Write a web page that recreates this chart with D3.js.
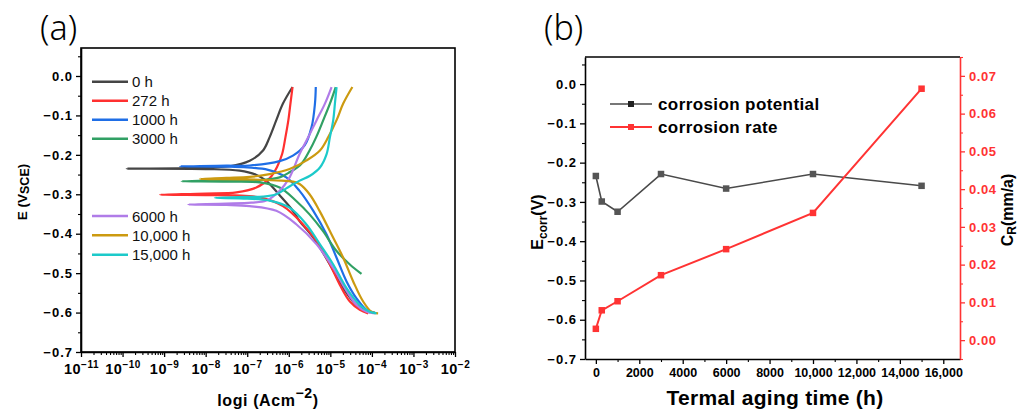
<!DOCTYPE html>
<html>
<head>
<meta charset="utf-8">
<script src="https://cdn.jsdelivr.net/npm/d3@7"></script>
<style>
  body { margin: 0; background: #fff; }
  svg { display: block; font-family: "Liberation Sans", Arial, sans-serif; }
</style>
</head>
<body>
<svg id="vis" width="1020" height="414"></svg>
<script>
// ---- panel (a): polarization curves, points are [log10(i), E] ----
const agingLabels = ["0 h", "272 h", "1000 h", "3000 h", "6000 h", "10,000 h", "15,000 h"];
const curveColors = ["#454545", "#ff3030", "#1f6ee6", "#31a064", "#b07ce8", "#cc9a10", "#1ccaca"];

// cathodic branches, from the Ecorr tip down to the end of the scan
const cathodic = [
  [[-9.90, -0.235], [-8.0, -0.236], [-7.18, -0.240], [-6.8, -0.250], [-6.54, -0.266], [-6.2, -0.305], [-5.90, -0.342], [-5.74, -0.368], [-5.41, -0.410], [-5.01, -0.478], [-4.69, -0.538], [-4.37, -0.581], [-4.05, -0.600]],
  [[-9.10, -0.301], [-8.0, -0.302], [-7.3, -0.303], [-6.70, -0.308], [-6.14, -0.330], [-5.66, -0.376], [-5.33, -0.419], [-5.01, -0.478], [-4.77, -0.530], [-4.53, -0.572], [-4.29, -0.593], [-4.09, -0.602]],
  [[-8.62, -0.229], [-7.5, -0.230], [-7.0, -0.232], [-6.5, -0.238], [-6.06, -0.257], [-5.75, -0.290], [-5.41, -0.342], [-5.09, -0.402], [-4.85, -0.461], [-4.61, -0.521], [-4.37, -0.564], [-4.13, -0.593], [-3.93, -0.600]],
  [[-8.58, -0.267], [-7.5, -0.268], [-6.7, -0.270], [-6.22, -0.283], [-5.82, -0.317], [-5.50, -0.351], [-5.18, -0.393], [-4.85, -0.444], [-4.53, -0.478], [-4.25, -0.502]],
  [[-8.42, -0.326], [-7.5, -0.327], [-6.94, -0.330], [-6.30, -0.342], [-5.82, -0.376], [-5.33, -0.427], [-4.93, -0.487], [-4.65, -0.538], [-4.37, -0.581], [-4.13, -0.598], [-3.93, -0.602]],
  [[-8.14, -0.261], [-7.0, -0.262], [-6.3, -0.265], [-5.9, -0.268], [-5.74, -0.274], [-5.50, -0.300], [-5.26, -0.342], [-4.97, -0.402], [-4.69, -0.461], [-4.45, -0.521], [-4.21, -0.572], [-4.01, -0.598], [-3.85, -0.602]],
  [[-7.78, -0.309], [-7.0, -0.311], [-6.46, -0.316], [-5.98, -0.334], [-5.58, -0.376], [-5.25, -0.427], [-4.93, -0.478], [-4.61, -0.538], [-4.29, -0.581], [-4.05, -0.598], [-3.89, -0.602]]
];

// anodic branches, from the Ecorr tip up to the end of the scan
const anodic = [
  [[-9.90, -0.234], [-8.5, -0.2335], [-7.42, -0.229], [-6.94, -0.215], [-6.62, -0.189], [-6.46, -0.155], [-6.30, -0.112], [-6.14, -0.070], [-5.91, -0.028]],
  [[-9.10, -0.299], [-8.0, -0.298], [-7.26, -0.295], [-6.78, -0.283], [-6.45, -0.258], [-6.28, -0.230], [-6.16, -0.198], [-6.08, -0.155], [-6.01, -0.112], [-5.96, -0.070], [-5.91, -0.028]],
  [[-8.62, -0.228], [-7.5, -0.2275], [-6.94, -0.227], [-6.22, -0.216], [-5.90, -0.202], [-5.62, -0.176], [-5.45, -0.129], [-5.37, -0.070], [-5.35, -0.028]],
  [[-8.58, -0.265], [-7.5, -0.2648], [-6.7, -0.264], [-6.22, -0.257], [-5.98, -0.244], [-5.70, -0.223], [-5.50, -0.189], [-5.34, -0.155], [-5.17, -0.112], [-5.01, -0.070], [-4.87, -0.028]],
  [[-8.42, -0.324], [-7.5, -0.3235], [-6.9, -0.321], [-6.54, -0.316], [-6.22, -0.291], [-5.98, -0.257], [-5.74, -0.198], [-5.53, -0.155], [-5.33, -0.112], [-5.13, -0.070], [-4.97, -0.028]],
  [[-8.14, -0.259], [-7.5, -0.2585], [-6.94, -0.256], [-6.46, -0.249], [-5.98, -0.236], [-5.57, -0.214], [-5.25, -0.189], [-5.05, -0.155], [-4.85, -0.112], [-4.69, -0.070], [-4.47, -0.028]],
  [[-7.78, -0.307], [-7.0, -0.3068], [-6.62, -0.306], [-6.3, -0.300], [-6.06, -0.285], [-5.75, -0.266], [-5.49, -0.253], [-5.25, -0.232], [-5.09, -0.198], [-5.01, -0.155], [-4.93, -0.112], [-4.89, -0.070], [-4.85, -0.028]]
];

const decadeExps = [-11, -10, -9, -8, -7, -6, -5, -4, -3, -2];
const eTicksA = [-0.7, -0.6, -0.5, -0.4, -0.3, -0.2, -0.1, 0.0];

// ---- panel (b): Ecorr and corrosion rate vs ageing time ----
const agingTime = [0, 272, 1000, 3000, 6000, 10000, 15000];
const corrPotential = [-0.234, -0.299, -0.325, -0.229, -0.266, -0.229, -0.259];
const corrRate = [0.0030, 0.0079, 0.0103, 0.0172, 0.0241, 0.0337, 0.0666];
const timeTicks = [0, 2000, 4000, 6000, 8000, 10000, 12000, 14000, 16000];
const timeTickLabels = ["0", "2000", "4000", "6000", "8000", "10,000", "12,000", "14,000", "16,000"];
const rateTicks = [0, 0.01, 0.02, 0.03, 0.04, 0.05, 0.06, 0.07];
const legendB = ["corrosion potential", "corrosion rate"];

const svg = d3.select("#vis");
const minus = s => s.replace("-", "\u2212");
const FONT = "'Liberation Sans', Arial, sans-serif";

function styleAxis(g, color) {
  g.attr("font-family", FONT);
  g.select(".domain").attr("stroke", color).attr("stroke-width", 1.6);
  g.selectAll(".tick line").attr("stroke", color).attr("stroke-width", 1.3);
  g.selectAll(".tick text").attr("fill", color).attr("font-weight", "bold");
}

function minorAxis(g, axis, color) {
  g.call(axis);
  g.select(".domain").remove();
  g.selectAll(".tick line").attr("stroke", color).attr("stroke-width", 1.1);
  g.selectAll(".tick text").remove();
}

// ================= panel (a) =================
const A = { left: 81, right: 455, top: 48, bottom: 352 };
const xA = d3.scaleLog().domain([1e-11, 1e-2]).range([A.left, A.right]);
const yA = d3.scaleLinear().domain([-0.7, 0.071]).range([A.bottom, A.top]);

svg.append("rect")
  .attr("x", A.left).attr("y", A.top)
  .attr("width", A.right - A.left).attr("height", A.bottom - A.top)
  .attr("fill", "none").attr("stroke", "#000").attr("stroke-width", 1.6);

const minorDecades = [];
decadeExps.slice(0, -1).forEach(e => {
  for (let k = 2; k <= 9; k++) minorDecades.push(k * Math.pow(10, e));
});

svg.append("g").attr("transform", `translate(0,${A.bottom})`)
  .call(g => minorAxis(g, d3.axisBottom(xA).tickValues(minorDecades).tickSize(3), "#000"));
svg.append("g").attr("transform", `translate(${A.left},0)`)
  .call(g => minorAxis(g, d3.axisLeft(yA).tickValues(d3.range(-0.65, 0.06, 0.1)).tickSize(3), "#000"));

const xAxisA = svg.append("g").attr("transform", `translate(0,${A.bottom})`)
  .call(d3.axisBottom(xA).tickValues(decadeExps.map(e => Math.pow(10, e))).tickSize(5).tickSizeOuter(0).tickFormat(""))
  .call(g => styleAxis(g, "#000"));
xAxisA.selectAll(".tick text")
  .attr("y", 12).attr("dy", "0.71em")
  .attr("font-size", 14.5).attr("font-weight", "bold").attr("fill", "#000")
  .attr("letter-spacing", 0.5)
  .each(function(d) {
    const t = d3.select(this);
    t.text("10");
    t.append("tspan").attr("dy", -6).attr("font-size", 10)
      .text(minus(String(Math.round(Math.log10(d)))));
  });

svg.append("g").attr("transform", `translate(${A.left},0)`)
  .call(d3.axisLeft(yA).tickValues(eTicksA).tickSize(5).tickSizeOuter(0)
    .tickFormat(d => minus(d3.format(".1f")(d))))
  .call(g => styleAxis(g, "#000"))
  .call(g => g.selectAll(".tick text").attr("font-size", 13).attr("letter-spacing", 1).attr("x", -8));

const lineA = d3.line()
  .x(d => xA(Math.pow(10, d[0])))
  .y(d => yA(d[1]))
  .curve(d3.curveCatmullRom.alpha(0.5));

const plotA = svg.append("g");
agingLabels.forEach((lab, i) => {
  const pts = cathodic[i].slice().reverse().concat(anodic[i].slice(1));
  plotA.append("path")
    .datum(pts)
    .attr("fill", "none")
    .attr("stroke", curveColors[i])
    .attr("stroke-width", 2.2)
    .attr("d", lineA);
});

const legendYA = [81.7, 100.7, 119.7, 138.7, 216, 235.3, 254.7];
agingLabels.forEach((lab, i) => {
  svg.append("line")
    .attr("x1", 92).attr("x2", 128)
    .attr("y1", legendYA[i]).attr("y2", legendYA[i])
    .attr("stroke", curveColors[i]).attr("stroke-width", 2.6);
  svg.append("text")
    .attr("x", 132).attr("y", legendYA[i] + 5.5)
    .attr("font-size", 15).attr("fill", "#111")
    .text(lab);
});

const yTitleA = svg.append("text")
  .attr("transform", "translate(27,192) rotate(-90)")
  .attr("text-anchor", "middle")
  .attr("font-size", 13.5).attr("font-weight", "bold");
yTitleA.append("tspan").text("E (V");
yTitleA.append("tspan").attr("font-size", 12.5).attr("dy", 2).text("SCE");
yTitleA.append("tspan").attr("dy", -2).text(")");

const xTitleA = svg.append("text")
  .attr("x", 268).attr("y", 406)
  .attr("text-anchor", "middle")
  .attr("font-size", 16).attr("font-weight", "bold").attr("letter-spacing", 0.6);
xTitleA.append("tspan").text("logi (Acm");
xTitleA.append("tspan").attr("dy", -8).attr("font-size", 14).text("\u22122");
xTitleA.append("tspan").attr("dy", 8).text(")");

svg.append("text")
  .attr("x", 40).attr("y", 40)
  .attr("font-family", "'Noto Sans', 'DejaVu Sans', sans-serif")
  .attr("font-weight", 300)
  .attr("font-size", 34)
  .text("(a)");

// ================= panel (b) =================
const B = { left: 585, right: 960, top: 57, bottom: 359 };
const xB = d3.scaleLinear().domain([-500, 16770]).range([B.left, B.right]);
const yB = d3.scaleLinear().domain([-0.7, 0.069]).range([B.bottom, B.top]);
const yR = d3.scaleLinear().domain([-0.005, 0.075]).range([B.bottom, B.top]);

svg.append("line")
  .attr("x1", B.left).attr("x2", B.right)
  .attr("y1", B.top).attr("y2", B.top)
  .attr("stroke", "#000").attr("stroke-width", 1.6);

svg.append("g").attr("transform", `translate(0,${B.bottom})`)
  .call(g => minorAxis(g, d3.axisBottom(xB).tickValues(d3.range(1000, 16001, 2000)).tickSize(3), "#000"));
svg.append("g").attr("transform", `translate(${B.left},0)`)
  .call(g => minorAxis(g, d3.axisLeft(yB).tickValues(d3.range(-0.65, 0.06, 0.1)).tickSize(3), "#000"));
svg.append("g").attr("transform", `translate(${B.right},0)`)
  .call(g => minorAxis(g, d3.axisRight(yR).tickValues(d3.range(-0.005, 0.0751, 0.01)).tickSize(3), "#ff3333"));

svg.append("g").attr("transform", `translate(0,${B.bottom})`)
  .call(d3.axisBottom(xB).tickValues(timeTicks).tickSize(5).tickSizeOuter(0)
    .tickFormat((d, i) => timeTickLabels[i]))
  .call(g => styleAxis(g, "#000"))
  .call(g => g.selectAll(".tick text").attr("font-size", 12.5).attr("y", 9));

svg.append("g").attr("transform", `translate(${B.left},0)`)
  .call(d3.axisLeft(yB).tickValues(eTicksA).tickSize(5).tickSizeOuter(0)
    .tickFormat(d => minus(d3.format(".1f")(d))))
  .call(g => styleAxis(g, "#000"))
  .call(g => g.selectAll(".tick text").attr("font-size", 13).attr("letter-spacing", 1).attr("x", -8));

svg.append("g").attr("transform", `translate(${B.right},0)`)
  .call(d3.axisRight(yR).tickValues(rateTicks).tickSize(5).tickSizeOuter(0)
    .tickFormat(d3.format(".2f")))
  .call(g => styleAxis(g, "#ff3333"))
  .call(g => g.selectAll(".tick text").attr("font-size", 13).attr("letter-spacing", 0.6).attr("x", 9));

const potLine = d3.line().x((d, i) => xB(agingTime[i])).y(d => yB(d));
const rateLine = d3.line().x((d, i) => xB(agingTime[i])).y(d => yR(d));

svg.append("path").datum(corrPotential)
  .attr("fill", "none").attr("stroke", "#4a4a4a").attr("stroke-width", 1.6)
  .attr("d", potLine);
svg.append("path").datum(corrRate)
  .attr("fill", "none").attr("stroke", "#ff3333").attr("stroke-width", 2)
  .attr("d", rateLine);

const sq = 6.5;
svg.selectAll(".mPot").data(corrPotential).enter().append("rect")
  .attr("x", (d, i) => xB(agingTime[i]) - sq / 2).attr("y", d => yB(d) - sq / 2)
  .attr("width", sq).attr("height", sq).attr("fill", "#555");
svg.selectAll(".mRate").data(corrRate).enter().append("rect")
  .attr("x", (d, i) => xB(agingTime[i]) - sq / 2).attr("y", d => yR(d) - sq / 2)
  .attr("width", sq).attr("height", sq).attr("fill", "#ff3333");

const legendColorsB = ["#4a4a4a", "#ff3333"];
const legendYB = [104, 127];
legendB.forEach((lab, i) => {
  svg.append("line")
    .attr("x1", 610).attr("x2", 652)
    .attr("y1", legendYB[i]).attr("y2", legendYB[i])
    .attr("stroke", legendColorsB[i]).attr("stroke-width", i ? 2 : 1.3);
  svg.append("rect")
    .attr("x", 631 - 3).attr("y", legendYB[i] - 3)
    .attr("width", 6).attr("height", 6)
    .attr("fill", i ? "#ff3333" : "#222");
  svg.append("text")
    .attr("x", 658).attr("y", legendYB[i] + 6)
    .attr("font-size", 17).attr("font-weight", "bold").attr("letter-spacing", 0.4)
    .text(lab);
});

const yTitleB = svg.append("text")
  .attr("transform", "translate(543,222) rotate(-90)")
  .attr("text-anchor", "middle")
  .attr("font-size", 16).attr("font-weight", "bold");
yTitleB.append("tspan").text("E");
yTitleB.append("tspan").attr("font-size", 12).attr("dy", 4).text("corr");
yTitleB.append("tspan").attr("dy", -4).text("(V)");

const yTitleR = svg.append("text")
  .attr("transform", "translate(1013,210) rotate(-90)")
  .attr("text-anchor", "middle")
  .attr("font-size", 16).attr("font-weight", "bold");
yTitleR.append("tspan").text("C");
yTitleR.append("tspan").attr("font-size", 12).attr("dy", 3).text("R");
yTitleR.append("tspan").attr("dy", -3).text("(mm/a)");

svg.append("text")
  .attr("x", 775).attr("y", 405)
  .attr("text-anchor", "middle")
  .attr("font-size", 21).attr("font-weight", "bold").attr("letter-spacing", 0.3)
  .text("Termal aging time (h)");

svg.append("text")
  .attr("x", 544).attr("y", 40)
  .attr("font-family", "'Noto Sans', 'DejaVu Sans', sans-serif")
  .attr("font-weight", 300)
  .attr("font-size", 34)
  .text("(b)");
</script>
</body>
</html>
